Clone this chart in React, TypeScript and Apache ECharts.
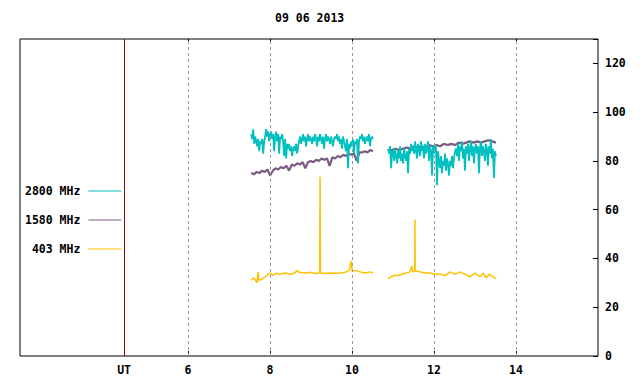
import React, { useEffect, useRef } from "react";
import * as echarts from "echarts";

const titleText = "09 06 2013";
const xTicks = [6, 8, 10, 12, 14];
const utPos = 4.44;
const seg1Start = 7.54;
const seg1End = 10.51;
const seg2Start = 10.88;
const seg2End = 13.51;

// 2800 MHz values (segment 1 and 2)
const c2800a = [
  91, 89, 93, 87, 90,
  88, 86, 89, 84, 88, 87, 89, 83, 88, 90,
  93, 90, 92, 88, 91,
  92, 89, 91, 84, 90, 92, 88, 91, 83, 90, 89, 91,
  88, 82, 89, 81, 87,
  85, 87, 84, 86, 82, 85, 86, 84, 87, 83, 86,
  88, 90, 87, 89, 91, 88, 90, 86, 89, 91, 88, 90, 89, 87,
  90, 88, 91, 89, 86, 90, 88, 91, 89, 87, 90, 85, 89, 91, 88, 90, 89, 87, 90, 88, 86, 89, 90,
  89, 91, 88, 90, 87, 89, 85, 90, 88, 86, 84, 89, 77, 87, 85,
  88, 86, 89, 83, 88, 87, 89, 79, 88, 90,
  89, 91, 88, 90, 87, 89, 90, 88, 91, 86, 89, 90, 89,
];
const c2800b = [
  85, 83, 86, 77, 84,
  84, 80, 85, 82, 79, 84, 81, 86, 80, 83, 79, 85, 82, 80, 84,
  75, 85, 83, 87, 84,
  86, 83, 88, 84, 81, 87, 85, 82, 88, 84, 86, 81, 87, 83, 85, 88, 80, 86,
  84, 74, 86, 83, 87, 85, 70, 84,
  80, 77, 82, 75, 80, 78, 83, 76, 81, 79, 74, 80, 78, 82, 77, 81, 84,
  85, 82, 87, 80, 86, 84, 88, 81, 85, 76, 86, 83, 87, 80, 85, 88, 82, 86, 79, 85, 87,
  83, 86, 75, 85, 88, 82, 86, 84, 80, 87, 85, 78, 86, 83, 89, 81, 85, 73, 84, 82,
];

// 1580 MHz values
const c1580a = [
  75, 74.5, 75.5, 75, 76, 75.5, 76.5, 74, 76, 77, 76.5, 77.5, 77, 78, 76, 78.5,
  78, 79, 78.5, 79.5, 77, 79.5, 80, 79.5, 80.5, 80, 81, 80.5, 81, 78, 81.5, 81,
  82, 81.5, 82.5, 82, 83, 82.5, 83, 80, 83.5, 83.5, 84, 83.5, 84.5, 84,
];
const c1580b = [
  84, 84.5, 85, 84.5, 85, 85.5, 85, 86, 85.5, 86, 85.5, 86.5, 86, 86.5, 86,
  87, 86.5, 87, 86.5, 87.5, 87, 87.5, 88, 87.5, 88, 87.5, 88, 88.5, 88, 87.5,
];

// 403 MHz readings: times (UT hours) and values
const t403a = [7.54, 7.59, 7.63, 7.68, 7.71, 7.73, 7.8, 7.88, 7.95, 8.0, 8.07, 8.15, 8.24, 8.37, 8.49, 8.59, 8.66, 8.73, 8.85, 8.98, 9.1, 9.21, 9.22, 9.23, 9.34, 9.46, 9.59, 9.71, 9.83, 9.93, 9.98, 10.0, 10.1, 10.2, 10.32, 10.44, 10.51];
const v403a = [31.1, 32, 31.5, 30, 34.4, 31, 31.5, 32.5, 33.5, 34, 33, 34, 33.5, 34, 33.5, 34, 35, 34.2, 34, 34.3, 33.8, 34, 73.5, 34, 33.8, 34, 33.9, 34, 34.3, 35, 39, 35, 35, 34.5, 34, 34.5, 34];
const t403b = [10.88, 10.95, 11.02, 11.12, 11.22, 11.32, 11.41, 11.46, 11.48, 11.53, 11.535, 11.54, 11.66, 11.78, 11.9, 12.02, 12.15, 12.27, 12.39, 12.51, 12.63, 12.76, 12.88, 13.0, 13.12, 13.2, 13.27, 13.34, 13.44, 13.51];
const v403b = [31.6, 32.5, 33, 33, 33.5, 34, 34.5, 36.9, 34.5, 34.8, 56, 35, 34.5, 34, 34, 33.5, 33.5, 33, 34.5, 33.5, 34.5, 33.5, 32.5, 34, 32.5, 34, 32, 33.5, 32.5, 31.6];

const names = ["2800 MHz", "1580 MHz", "403 MHz"];
const colors = ["#00c0c0", "#7b5b82", "#ffc000"];

const FONT = "DejaVu Sans Mono";

function spread(vals: number[], a: number, b: number): (number | null)[][] {
  const n = vals.length;
  return vals.map((v, i) => [a + ((b - a) * i) / (n - 1), v]);
}

function pairs(ts: number[], vs: number[]) {
  return ts.map((t, i) => [t, vs[i]]);
}

export default function App() {
  const ref = useRef<HTMLDivElement>(null);
  useEffect(() => {
    if (!ref.current) return;
    const chart = echarts.init(ref.current, null, { renderer: "svg" });
    const gap = [[null, null]];
    const d2800 = [...spread(c2800a, seg1Start, seg1End), ...gap, ...spread(c2800b, seg2Start, seg2End)];
    const d1580 = [...spread(c1580a, seg1Start, seg1End), ...gap, ...spread(c1580b, seg2Start, seg2End)];
    const d403 = [...pairs(t403a, v403a), ...gap, ...pairs(t403b, v403b)];
    const textStyle = { fontFamily: FONT, fontWeight: "bold", fontSize: 11.5, color: "#000" };
    const gridLines = xTicks.map((v) => ({
      xAxis: v,
      lineStyle: { color: "#999999", type: [3, 3], width: 1 },
    }));
    const utLine = { xAxis: utPos, lineStyle: { color: "#8b0000", type: "solid", width: 1 } };
    chart.setOption({
      animation: false,
      backgroundColor: "#fff",
      title: {
        text: titleText,
        left: 275,
        top: 12,
        padding: 0,
        textStyle: { ...textStyle },
      },
      legend: {
        data: names,
        orient: "vertical",
        align: "right",
        left: 25,
        top: 185,
        padding: 0,
        itemWidth: 33,
        itemHeight: 14,
        itemGap: 17,
        itemStyle: { opacity: 0 },
        lineStyle: { width: 1 },
        textStyle: { ...textStyle, padding: [0, 3, 0, 0] },
      },
      grid: {
        left: 20,
        right: 42,
        top: 39,
        bottom: 28,
        show: true,
        borderColor: "#000",
        borderWidth: 1,
        backgroundColor: "transparent",
      },
      xAxis: [
        {
          type: "value",
          min: 1.9,
          max: 16,
          position: "bottom",
          axisLine: { show: false },
          splitLine: { show: false },
          axisTick: { show: true, inside: true, length: 5, customValues: xTicks, lineStyle: { color: "#000" } },
          axisLabel: {
            customValues: [utPos, ...xTicks],
            margin: 8,
            ...textStyle,
            formatter: (v: number) => (v < 5 ? "UT" : String(v)),
          },
        },
        {
          type: "value",
          min: 1.9,
          max: 16,
          position: "top",
          axisLine: { show: false },
          splitLine: { show: false },
          axisTick: { show: true, inside: true, length: 5, customValues: xTicks, lineStyle: { color: "#000" } },
          axisLabel: { show: false },
        },
      ],
      yAxis: {
        type: "value",
        position: "right",
        min: 0,
        max: 130,
        interval: 20,
        axisLine: { show: false },
        splitLine: { show: false },
        axisTick: { show: true, inside: true, length: 5, lineStyle: { color: "#000" } },
        axisLabel: {
          margin: 7,
          ...textStyle,
          formatter: (v: number) => (v > 120 ? "" : String(v)),
        },
      },
      series: [
        {
          name: names[1],
          type: "line",
          data: d1580,
          symbol: "none",
          connectNulls: false,
          color: colors[1],
          lineStyle: { width: 2.2, color: colors[1] },
          z: 2,
          markLine: {
            silent: true,
            symbol: ["none", "none"],
            label: { show: false },
            data: [...gridLines, utLine],
          },
        },
        {
          name: names[0],
          type: "line",
          data: d2800,
          symbol: "none",
          connectNulls: false,
          color: colors[0],
          lineStyle: { width: 1.8, color: colors[0] },
          z: 3,
        },
        {
          name: names[2],
          type: "line",
          data: d403,
          symbol: "none",
          connectNulls: false,
          color: colors[2],
          lineStyle: { width: 1.5, color: colors[2] },
          z: 4,
        },
      ],
    });
    return () => chart.dispose();
  }, []);
  return (
    <div
      ref={ref}
      style={{ position: "fixed", left: 0, top: 0, width: 640, height: 384, background: "#fff" }}
    />
  );
}
